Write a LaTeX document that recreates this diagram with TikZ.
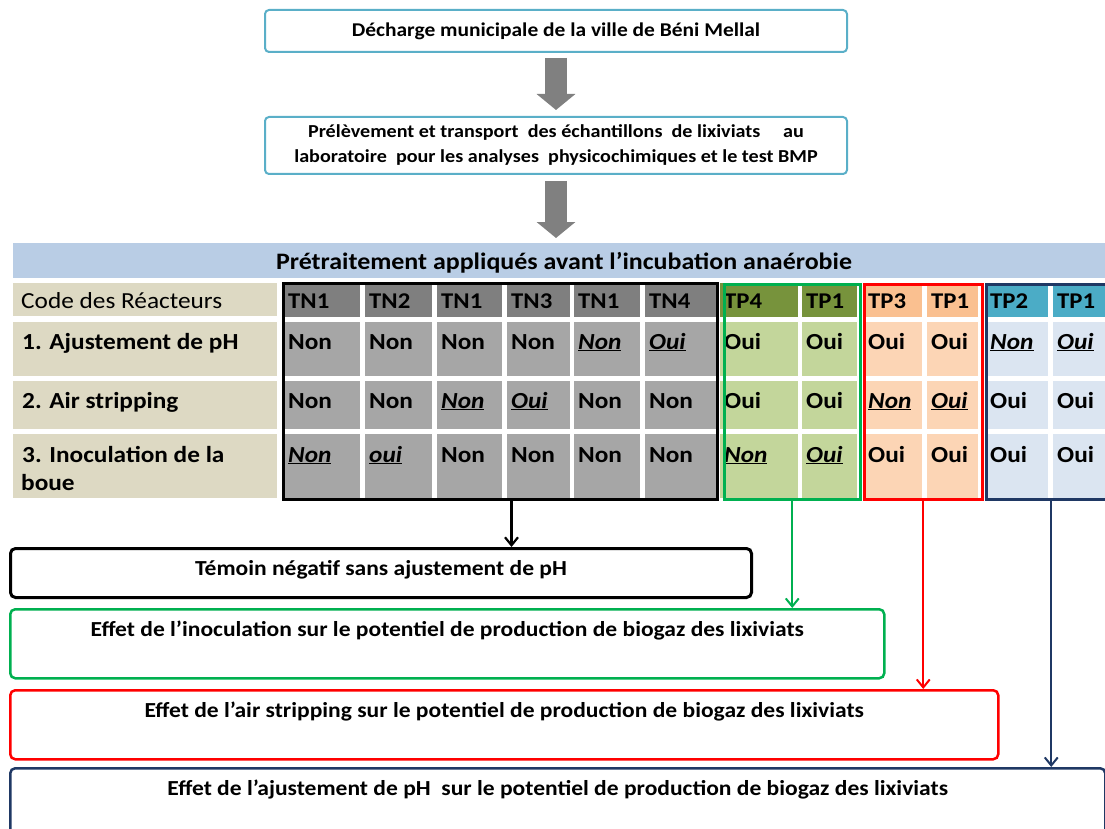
\documentclass[tikz,border=0pt]{standalone}
\usepackage{fontspec}
\setmainfont{Carlito}[FakeStretch=1.1]
\usetikzlibrary{arrows.meta,calc}
\definecolor{teal1}{HTML}{5AAFC8}
\definecolor{arrgray}{HTML}{808080}
\definecolor{band}{HTML}{B9CDE5}
\definecolor{beige}{HTML}{DDD9C3}
\definecolor{tnh}{HTML}{7F7F7F}
\definecolor{tnc}{HTML}{A6A6A6}
\definecolor{tgh}{HTML}{77933C}
\definecolor{tgc}{HTML}{C3D69B}
\definecolor{toh}{HTML}{FAC090}
\definecolor{toc}{HTML}{FCD5B5}
\definecolor{tbh}{HTML}{4BACC6}
\definecolor{tbc}{HTML}{DBE5F1}
\definecolor{grn}{HTML}{00B050}
\definecolor{rd}{HTML}{FF0000}
\definecolor{nvy}{HTML}{1F3864}
\newcommand\uit[1]{\underline{\textit{#1}}}
\newcommand\fsz[2]{\fontsize{#1}{#2}\selectfont}
\begin{document}
\begin{tikzpicture}[x=1pt,y=-1pt,
  topbox/.style={draw=teal1, line width=2pt, rounded corners=4pt, fill=white, inner sep=0pt,
    align=center, minimum width=582pt},
  blockarrow/.style={draw=arrgray, line width=22pt, -{Triangle[length=16pt,width=38pt]}},
  cellbox/.style={inner sep=0pt, anchor=north west},
  celltxt/.style={inner sep=0pt, anchor=base west, font=\fsz{23}{27}\bfseries},
  lbltxt/.style={inner sep=0pt, anchor=base west, font=\fsz{23}{27}\bfseries},
  frame/.style={inner sep=0pt, anchor=north west, line width=2.5pt},
  resbox/.style={inner sep=0pt, anchor=north west, rounded corners=5pt, line width=2.5pt,
    fill=white},
  restxt/.style={font=\fsz{21.4}{25}\bfseries, inner sep=0pt, anchor=base, yshift=-28.5pt},
  thinarrow/.style={line width=2pt, -{Straight Barb[length=8pt,width=13pt]}}
]
\useasboundingbox (0,0) rectangle (1105,829);
\clip (0,0) rectangle (1105,829);

% top boxes
\node[topbox, minimum height=42pt, font=\fsz{19.5}{22}\bfseries] (b1) at (556,31) {Décharge municipale de la ville de Béni Mellal};
\node[topbox, minimum height=57pt, font=\fsz{18.3}{25}\bfseries] (b2) at (556,145.5) {Prélèvement et transport\ \ des échantillons\ \ de lixiviats\ \ \ \ \ au\\laboratoire\ \ pour les analyses\ \ physicochimiques et le test BMP};
\draw[blockarrow] ([yshift=-5pt]b1.south) -- ([yshift=6pt]b2.north);

% header band
\node[cellbox, fill=band, minimum width=1100pt, minimum height=35pt] (band) at (13,243) {};
\node[font=\fsz{23.6}{27}\bfseries, inner sep=0pt, anchor=base] (bandtxt) at (564,269) {Prétraitement appliqués avant l’incubation anaérobie};
\draw[blockarrow] ([yshift=-6pt]b2.south) -- ([yshift=5pt]b2.south |- band.north);

% row labels
\node[cellbox, fill=beige, minimum width=264pt, minimum height=33pt] (l0) at (13,283) {};
\node[cellbox, fill=beige, minimum width=264pt, minimum height=54pt] (l1) at (13,322) {};
\node[cellbox, fill=beige, minimum width=264pt, minimum height=48pt] (l2) at (13,381) {};
\node[cellbox, fill=beige, minimum width=264pt, minimum height=64pt] (l3) at (13,434) {};
\node[lbltxt, font=\fsz{23}{27}] (lt0) at (21,308) {Code des Réacteurs};
\node[lbltxt] (lt1) at (22,349) {1. Ajustement de pH};
\node[lbltxt] (lt2) at (22,408) {2. Air stripping};
\node[lbltxt] (lt3) at (22,462) {3. Inoculation de la};
\node[lbltxt] (lt3b) at (21,490) {boue};

% table cells
\foreach \i/\l/\r/\hc/\bc/\ha/\ra/\rb/\rc in {
  1/284/360/tnh/tnc/TN1/Non/Non/\uit{Non},
  2/365/432/tnh/tnc/TN2/Non/Non/\uit{oui},
  3/437/502/tnh/tnc/TN1/Non/\uit{Non}/Non,
  4/507/570/tnh/tnc/TN3/Non/\uit{Oui}/Non,
  5/574/640/tnh/tnc/TN1/\uit{Non}/Non/Non,
  6/645/716/tnh/tnc/TN4/\uit{Oui}/Non/Non,
  7/720/798/tgh/tgc/TP4/Oui/Oui/\uit{Non},
  8/802/857/tgh/tgc/TP1/Oui/Oui/\uit{Oui},
  9/864/922/toh/toc/TP3/Oui/\uit{Non}/Oui,
  10/927/978/toh/toc/TP1/Oui/\uit{Oui}/Oui,
  11/986/1048/tbh/tbc/TP2/\uit{Non}/Oui/Oui,
  12/1053/1108/tbh/tbc/TP1/\uit{Oui}/Oui/Oui}{
  \pgfmathsetmacro\w{\r-\l}
  \node[cellbox, fill=\hc, minimum width=\w pt, minimum height=34pt] (h\i) at (\l,283) {};
  \node[cellbox, fill=\bc, minimum width=\w pt, minimum height=54pt] (ca\i) at (\l,322) {};
  \node[cellbox, fill=\bc, minimum width=\w pt, minimum height=48pt] (cb\i) at (\l,381) {};
  \node[cellbox, fill=\bc, minimum width=\w pt, minimum height=64pt] (cc\i) at (\l,434) {};
  \node[celltxt, font=\fsz{22.5}{27}\bfseries] (th\i) at ([xshift=4pt,yshift=-25.3pt]h\i.north west) {\ha};
  \node[celltxt] (ta\i) at ([xshift=4pt,yshift=-27pt]ca\i.north west) {\ra};
  \node[celltxt] (tb\i) at ([xshift=4pt,yshift=-27pt]cb\i.north west) {\rb};
  \node[celltxt] (tc\i) at ([xshift=4pt,yshift=-28pt]cc\i.north west) {\rc};
}

% group frames
\node[frame, draw=black, line width=3pt, minimum width=434pt, minimum height=216pt] (gTN) at (282,282) {};
\node[frame, draw=grn, minimum width=136pt, minimum height=215pt] (gG) at (723,283) {};
\node[frame, draw=rd, minimum width=118pt, minimum height=215pt] (gR) at (863,283) {};
\node[frame, draw=nvy, minimum width=140pt, minimum height=215pt] (gB) at (985,283) {};

% result boxes
\node[resbox, draw=black, line width=3pt, minimum width=741pt, minimum height=49pt,
  label={[restxt]north:Témoin négatif sans ajustement de pH}] (rN) at (9,547) {};
\node[resbox, draw=grn, minimum width=874pt, minimum height=69pt,
  label={[restxt]north:Effet de l’inoculation sur le potentiel de production de biogaz des lixiviats}] (rG) at (9,608) {};
\node[resbox, draw=rd, minimum width=988pt, minimum height=69pt,
  label={[restxt]north:Effet de l’air stripping sur le potentiel de production de biogaz des lixiviats}] (rR) at (9,689) {};
\node[resbox, draw=nvy, minimum width=1095pt, minimum height=90pt,
  label={[restxt]north:Effet de l’ajustement de pH\ \ sur le potentiel de production de biogaz des lixiviats}] (rB) at (9,767) {};

% connectors
\draw[thinarrow, black, line width=2.2pt] ([xshift=11pt]gTN.south) -- ([xshift=11pt]gTN.south |- rN.north);
\draw[thinarrow, grn] (gG.south) -- (gG.south |- rG.north);
\draw[thinarrow, rd] (gR.south) -- (gR.south |- rR.north);
\draw[thinarrow, nvy] ([xshift=-5pt]gB.south) -- ([xshift=-5pt]gB.south |- rB.north);
\end{tikzpicture}
\end{document}
